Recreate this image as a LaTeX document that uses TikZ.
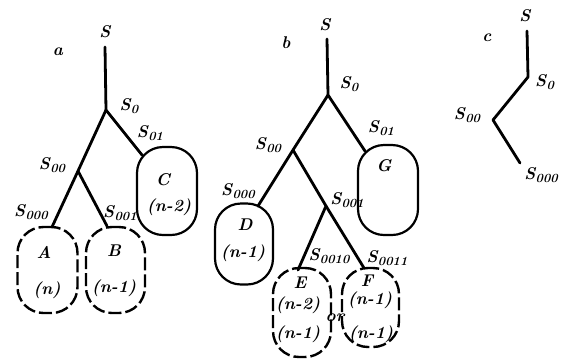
\documentclass[tikz,border=0pt]{standalone}
\usetikzlibrary{positioning}
\newcommand{\Sl}[1]{\textbf{\textit{S}}\kern0.3pt\raisebox{-3.5pt}{\fontsize{12.5}{14}\selectfont\bfseries\itshape #1}}
\tikzset{
  branch/.style={line width=2.8pt, line cap=round, line join=round},
  lbl/.style={font=\fontsize{17}{19}\selectfont\bfseries\itshape, inner sep=0pt},
  boxsolid/.style={draw, line width=2.2pt, rounded corners=26pt},
  boxdash/.style={draw, line width=2.4pt, rounded corners=26pt, dash pattern=on 13pt off 4pt},
  txt/.style={font=\fontsize{17}{19}\selectfont\bfseries\itshape, inner sep=0pt},
}
\begin{document}
\begin{tikzpicture}[x=1pt,y=-1pt]
\useasboundingbox (0,0) rectangle (561,360);
% ---------- tree a ----------
\node[lbl] (la) at (58,52) {a};
\node[lbl] (Sa) at (105,32) {S};
\coordinate (ta) at (105,47);
\coordinate (j0a) at (106,110);
\coordinate (j00a) at (78,171);
\coordinate (cA) at (52,227);
\coordinate (cB) at (107,226);
\coordinate (cC) at (142,155);
\node[boxsolid, minimum width=60pt, minimum height=88pt] (C) at (167,191) {};
\node[boxdash, minimum width=60pt, minimum height=86pt] (A) at (47.5,270) {};
\node[boxdash, minimum width=59pt, minimum height=86pt] (B) at (115.5,270) {};
\draw[branch] (ta) -- (j0a) -- (cC);
\draw[branch] (j0a) -- (j00a) -- (cA);
\draw[branch] (j00a) -- (cB);
\node[lbl] (la0) at (129,106) {\Sl{0}};
\node[lbl] (la01) at (150,133) {\Sl{01}};
\node[lbl] (la00) at (52,165) {\Sl{00}};
\node[lbl] (la000) at (31,212) {\Sl{000}};
\node[lbl] (la001) at (120,213) {\Sl{001}};
\node[txt] (tC1) at (163,180) {C};
\node[txt] (tC2) at (169,207) {(n-2)};
\node[txt] (tA1) at (44,252) {A};
\node[txt] (tA2) at (47,290) {(n)};
\node[txt] (tB1) at (114,251) {B};
\node[txt] (tB2) at (114,288) {(n-1)};
% ---------- tree b ----------
\node[lbl] (lb) at (286,43) {b};
\node[lbl] (Sb) at (325,25) {S};
\coordinate (tb) at (327,39);
\coordinate (j0b) at (328,95);
\coordinate (j00b) at (293,150);
\coordinate (j001b) at (326,206);
\coordinate (cG) at (365,151);
\coordinate (cD) at (258,206);
\coordinate (cE) at (298,270);
\coordinate (cF) at (364,268);
\node[boxsolid, minimum width=60pt, minimum height=90pt] (G) at (388,190) {};
\node[boxsolid, minimum width=58pt, minimum height=81pt] (D) at (244,244) {};
\node[boxdash, minimum width=58pt, minimum height=89pt] (E) at (302,312.5) {};
\node[boxdash, minimum width=57pt, minimum height=79pt] (F) at (370.5,307.5) {};
\draw[branch] (tb) -- (j0b) -- (cG);
\draw[branch] (j0b) -- (j00b) -- (cD);
\draw[branch] (j00b) -- (j001b) -- (cE);
\draw[branch] (j001b) -- (cF);
\node[lbl] (lb0) at (349,84) {\Sl{0}};
\node[lbl] (lb01) at (381,128) {\Sl{01}};
\node[lbl] (lb00) at (268,145) {\Sl{00}};
\node[lbl] (lb000) at (238,191) {\Sl{000}};
\node[lbl] (lb001) at (347,200) {\Sl{001}};
\node[lbl] (lb0010) at (329,256) {\Sl{0010}};
\node[lbl] (lb0011) at (387,258) {\Sl{0011}};
\node[txt] (tG) at (384,166) {G};
\node[txt] (tD1) at (245,225) {D};
\node[txt] (tD2) at (243,253) {(n-1)};
\node[txt] (tE1) at (300,283) {E};
\node[txt] (tE2) at (298,305) {(n-2)};
\node[txt] (tE3) at (298,334) {(n-1)};
\node[txt] (tor) at (335,318) {or};
\node[txt] (tF1) at (367,281) {F};
\node[txt] (tF2) at (370,300) {(n-1)};
\node[txt] (tF3) at (371,334) {(n-1)};
% ---------- tree c ----------
\node[lbl] (lc) at (487,38) {c};
\node[lbl] (Sc) at (525,16) {S};
\coordinate (tc) at (527,31);
\coordinate (j0c) at (528,77);
\coordinate (j00c) at (493,120);
\coordinate (ec) at (520,163);
\draw[branch] (tc) -- (j0c) -- (j00c) -- (ec);
\node[lbl, anchor=west] (lc0) at (535,82) {\Sl{0}};
\node[lbl] (lc00) at (467,115) {\Sl{00}};
\node[lbl, anchor=east] (lc000) at (558,175) {\Sl{000}};
\end{tikzpicture}
\end{document}
